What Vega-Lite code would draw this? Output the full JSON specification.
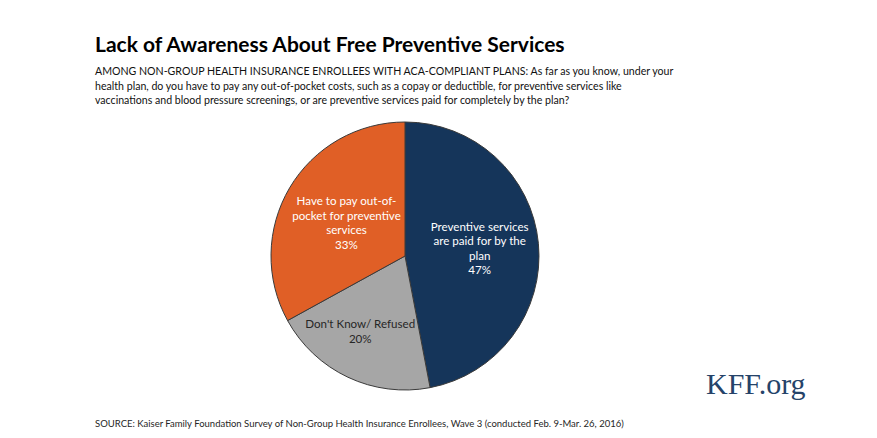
{
  "$schema": "https://vega.github.io/schema/vega-lite/v6.json",
  "width": 620,
  "height": 266,
  "autosize": {"type": "none"},
  "padding": {"left": 95, "top": 123, "right": 162, "bottom": 49},
  "background": "white",
  "config": {"view": {"stroke": null}, "font": "Lato"},
  "title": {
    "text": "Lack of Awareness About Free Preventive Services",
    "subtitle": [
      "AMONG NON-GROUP HEALTH INSURANCE ENROLLEES WITH ACA-COMPLIANT PLANS: As far as you know, under your",
      "health plan, do you have to pay any out-of-pocket costs, such as a copay or deductible,  for preventive services like",
      "vaccinations and blood pressure screenings, or are preventive services paid for completely by the plan?"
    ],
    "anchor": "start",
    "frame": "group",
    "font": "Lato",
    "fontSize": 21,
    "fontWeight": "bold",
    "color": "#000000",
    "subtitleFont": "Lato",
    "subtitleFontSize": 10.6,
    "subtitleColor": "#111111",
    "subtitleLineHeight": 14.8,
    "subtitlePadding": 11,
    "offset": 13
  },
  "data": {
    "values": [
      {"n": 1, "category": "Preventive services are paid for by the plan", "value": 47, "label": "Preventive services\nare paid for by the\nplan\n47%"},
      {"n": 2, "category": "Don't Know/ Refused", "value": 20, "label": "Don't Know/ Refused\n20%"},
      {"n": 3, "category": "Have to pay out-of-pocket for preventive services", "value": 33, "label": "Have to pay out-of-\npocket for preventive\nservices\n33%"}
    ]
  },
  "encoding": {
    "theta": {"field": "value", "type": "quantitative", "stack": true},
    "order": {"field": "n", "type": "quantitative"}
  },
  "layer": [
    {
      "mark": {"type": "arc", "outerRadius": 134, "stroke": "#3a3a3a", "strokeWidth": 1},
      "encoding": {
        "color": {
          "field": "category",
          "type": "nominal",
          "scale": {
            "domain": ["Preventive services are paid for by the plan", "Don't Know/ Refused", "Have to pay out-of-pocket for preventive services"],
            "range": ["#15355a", "#a6a6a6", "#e05f26"]
          },
          "legend": null
        }
      }
    },
    {
      "mark": {"type": "text", "radius": 75, "dy": -21, "fontSize": 11.6, "lineHeight": 14.5, "lineBreak": "\n", "align": "center", "baseline": "middle", "color": "#ffffff", "font": "Lato"},
      "encoding": {
        "text": {"condition": {"test": "datum.n === 1", "field": "label"}, "value": ""}
      }
    },
    {
      "mark": {"type": "text", "radius": 91, "dx": -6, "dy": -13, "fontSize": 11.6, "lineHeight": 14.5, "lineBreak": "\n", "align": "center", "baseline": "middle", "color": "#262626", "font": "Lato"},
      "encoding": {
        "text": {"condition": {"test": "datum.n === 2", "field": "label"}, "value": ""}
      }
    },
    {
      "mark": {"type": "text", "radius": 68, "dy": -19, "fontSize": 11.6, "lineHeight": 14.5, "lineBreak": "\n", "align": "center", "baseline": "middle", "color": "#ffffff", "font": "Lato"},
      "encoding": {
        "text": {"condition": {"test": "datum.n === 3", "field": "label"}, "value": ""}
      }
    },
    {
      "data": {"values": [{"note": "SOURCE: Kaiser Family Foundation Survey of Non-Group Health Insurance Enrollees, Wave 3 (conducted Feb. 9-Mar. 26, 2016)"}]},
      "mark": {"type": "text", "align": "left", "baseline": "alphabetic", "fontSize": 9.5, "color": "#262626", "font": "Lato"},
      "encoding": {
        "theta": null,
        "order": null,
        "text": {"field": "note"},
        "x": {"value": 0},
        "y": {"value": 304}
      }
    },
    {
      "data": {"values": [{"brand": "KFF.org"}]},
      "mark": {"type": "text", "align": "left", "baseline": "alphabetic", "fontSize": 30, "color": "#254369", "font": "Liberation Serif"},
      "encoding": {
        "theta": null,
        "order": null,
        "text": {"field": "brand"},
        "x": {"value": 611},
        "y": {"value": 271}
      }
    }
  ]
}
